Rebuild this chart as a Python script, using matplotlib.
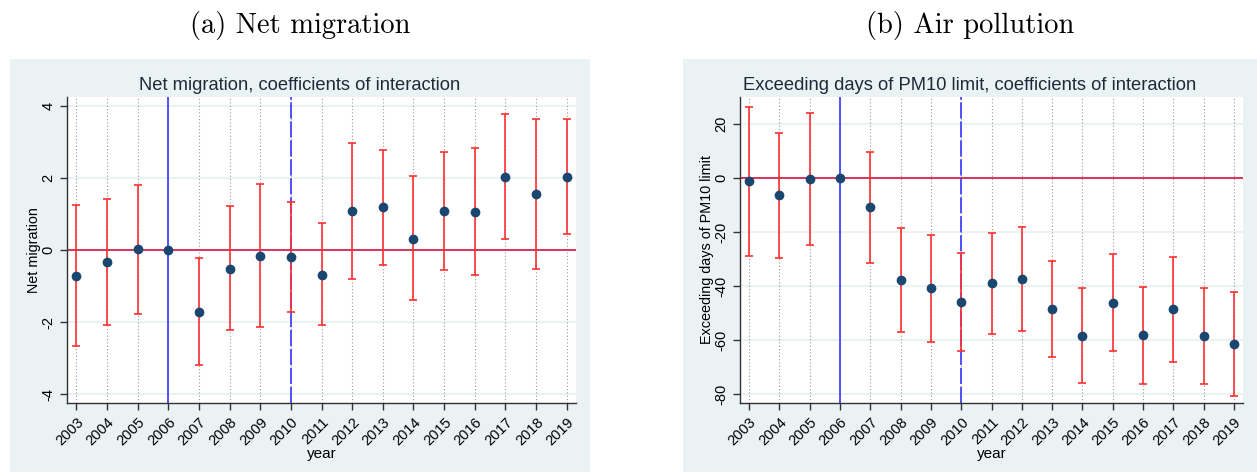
import matplotlib.pyplot as plt
from matplotlib.patches import Rectangle

years = list(range(2003, 2020))

# Panel (a): net migration, point estimates and 95% CI bounds
mig_coef = [-0.71, -0.33, 0.03, 0.0, -1.72, -0.51, -0.16, -0.19, -0.68,
            1.10, 1.19, 0.32, 1.08, 1.07, 2.04, 1.56, 2.04]
mig_hi = [1.27, 1.42, 1.82, None, -0.23, 1.22, 1.84, 1.34, 0.75,
          2.99, 2.78, 2.06, 2.72, 2.85, 3.80, 3.66, 3.66]
mig_lo = [-2.66, -2.07, -1.77, None, -3.20, -2.22, -2.14, -1.71, -2.08,
          -0.79, -0.40, -1.39, -0.55, -0.70, 0.30, -0.52, 0.44]

# Panel (b): exceeding days of PM10 limit
pm_coef = [-1.0, -6.3, -0.4, 0.0, -10.8, -37.6, -40.7, -45.8, -38.9,
           -37.3, -48.3, -58.3, -46.1, -58.1, -48.4, -58.5, -61.2]
pm_hi = [26.5, 16.9, 24.2, None, 9.7, -18.3, -20.9, -27.8, -20.4,
         -18.1, -30.7, -40.7, -28.0, -40.2, -29.1, -40.7, -42.0]
pm_lo = [-28.7, -29.4, -24.8, None, -31.3, -57.0, -60.5, -63.9, -57.5,
         -56.4, -66.0, -75.8, -64.0, -76.0, -67.9, -76.3, -80.5]

W, H = 1257, 472
BG = "#eaf2f3"
NAVY = "#1a476f"
CI_RED = "#ff3030"
ZERO_RED = "#d6365a"
BLUE = "#4444ff"
FONT = "Liberation Sans"

fig = plt.figure(figsize=(W / 100, H / 100), dpi=100)


def px_axes(x0, y0, x1, y1):
    """Axes from pixel box (top-left origin)."""
    return fig.add_axes([x0 / W, 1 - y1 / H, (x1 - x0) / W, (y1 - y0) / H])


def panel(box, bg_box, coef, lo, hi, ylim, yticks, ylabel, title, caption, ylabel_x):
    # graph region background
    bx0, by0, bx1, by1 = bg_box
    fig.patches.append(Rectangle((bx0 / W, 1 - by1 / H), (bx1 - bx0) / W, (by1 - by0) / H,
                                 transform=fig.transFigure, facecolor=BG, edgecolor="none",
                                 zorder=-10))
    cx = (bx0 + bx1) / 2 / W
    fig.text(cx, 1 - 25 / H, caption, ha="center", va="center",
             fontfamily="cmr10", fontsize=20.5)
    fig.text(cx, 1 - 85 / H, title, ha="center", va="center",
             fontfamily=FONT, fontsize=13.2, color="#1e2a3a")

    ax = px_axes(*box)
    ax.set_facecolor("white")
    ax.set_xlim(2002.7, 2019.3)
    ax.set_ylim(*ylim)

    for yt in yticks:
        ax.axhline(yt, color=BG, lw=1.5, zorder=0)
    for yr in years:
        ax.axvline(yr, color="#9a9a9a", lw=0.8, ls=(0, (1, 2)), zorder=0.5)

    ax.axhline(0, color=ZERO_RED, lw=1.4, zorder=1)
    ax.axvline(2006, color=BLUE, lw=1.3, zorder=1.5)
    ax.axvline(2010, color=BLUE, lw=1.3, ls=(0, (9, 1.5)), zorder=1.5)

    ey = [(yr, c, l, h) for yr, c, l, h in zip(years, coef, lo, hi) if l is not None]
    ax.errorbar([e[0] for e in ey], [e[1] for e in ey],
                yerr=[[e[1] - e[2] for e in ey], [e[3] - e[1] for e in ey]],
                fmt="none", ecolor=CI_RED, elinewidth=1.2, capsize=3, capthick=1.2,
                zorder=2)
    ax.plot(years, coef, "o", color=NAVY, ms=6, zorder=3)

    ax.set_yticks(yticks)
    ax.set_yticklabels([str(t) for t in yticks], rotation=90, va="center",
                       fontfamily=FONT, fontsize=10.5)
    ax.set_xticks(years)
    ax.set_xticklabels([str(y) for y in years], rotation=45, ha="right",
                       rotation_mode="anchor", fontfamily=FONT, fontsize=10.5)
    ax.tick_params(axis="both", direction="out", length=5, width=1, color="#333333")
    for s in ("top", "right"):
        ax.spines[s].set_visible(False)
    for s in ("left", "bottom"):
        ax.spines[s].set_color("#333333")
        ax.spines[s].set_linewidth(1)

    height = box[3] - box[1]
    ax.set_xlabel("year", fontfamily=FONT, fontsize=11)
    ax.xaxis.set_label_coords(0.5, -(447 - box[3]) / height)
    ax.set_ylabel(ylabel, fontfamily=FONT, fontsize=10.4)
    ax.yaxis.set_label_coords((ylabel_x - box[0]) / (box[2] - box[0]), 0.5)
    return ax


panel((67, 97, 576, 403), (10, 59, 590, H), mig_coef, mig_lo, mig_hi,
      (-4.25, 4.26), [-4, -2, 0, 2, 4], "Net migration",
      "Net migration, coefficients of interaction", "(a) Net migration", 41)

panel((740, 97, 1243, 403), (683, 59, W, H), pm_coef, pm_lo, pm_hi,
      (-83.2, 30.1), [-80, -60, -40, -20, 0, 20], "Exceeding days of PM10 limit",
      "Exceeding days of PM10 limit, coefficients of interaction", "(b) Air pollution", 714)

fig.savefig("out.png", dpi=100)
